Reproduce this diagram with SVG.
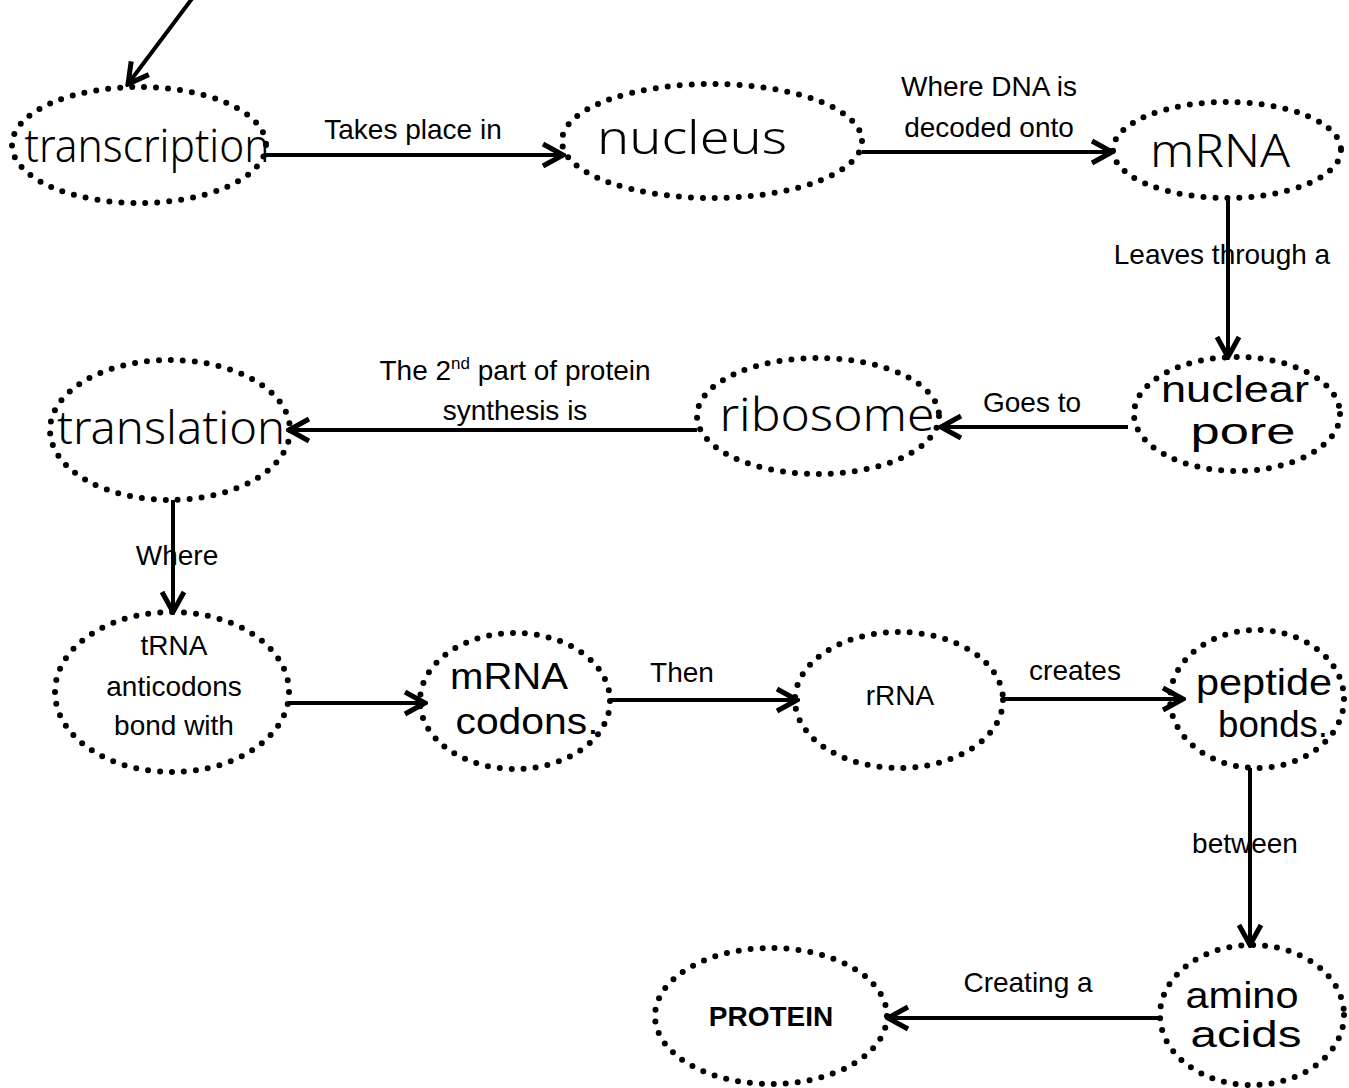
<svg xmlns="http://www.w3.org/2000/svg" width="1349" height="1088" viewBox="0 0 1349 1088">
<defs>
<style>
.node ellipse{fill:none;stroke:#000;stroke-width:6;stroke-linecap:round;stroke-dasharray:0 12}
.hw{font-family:"Noto Sans","DejaVu Sans",sans-serif;font-size:46px;fill:#000;text-anchor:middle;font-weight:300}
.hs{font-family:"Liberation Sans",Arial,sans-serif;font-size:37px;fill:#000;text-anchor:middle}
.lb{font-family:"Liberation Sans",Arial,sans-serif;font-size:28px;fill:#000;text-anchor:middle}
.bold{font-weight:bold}
.conn line{stroke:#000;stroke-width:4;fill:none;marker-end:url(#arr)}
</style>
<marker id="arr" markerUnits="userSpaceOnUse" viewBox="0 0 26 28" refX="23" refY="14" markerWidth="26" markerHeight="28" orient="auto">
<path d="M3,3 L23,14 L3,25" fill="none" stroke="#000" stroke-width="5" stroke-linejoin="miter"/>
</marker>
</defs>
<rect width="1349" height="1088" fill="#fff"/>

<g id="labels">
<text class="lb" x="413" y="139">Takes place in</text>
<text class="lb" x="989" y="96">Where DNA is</text>
<text class="lb" x="989" y="137">decoded onto</text>
<text class="lb" x="1222" y="264">Leaves through a</text>
<text class="lb" x="1032" y="412">Goes to</text>
<text class="lb" x="515" y="380">The 2<tspan font-size="17" dy="-11">nd</tspan><tspan dy="11"> part of protein</tspan></text>
<text class="lb" x="515" y="420">synthesis is</text>
<text class="lb" x="177" y="565">Where</text>
<text class="lb" x="682" y="682">Then</text>
<text class="lb" x="1075" y="680">creates</text>
<text class="lb" x="1245" y="853">between</text>
<text class="lb" x="1028" y="992">Creating a</text>
</g>

<g id="connectors" class="conn">
<line x1="194" y1="-4" x2="128" y2="84"/>
<line x1="265" y1="155" x2="563" y2="155"/>
<line x1="862" y1="152" x2="1112" y2="152"/>
<line x1="1228" y1="198" x2="1228" y2="357"/>
<line x1="1128" y1="427" x2="941" y2="427"/>
<line x1="697" y1="430" x2="289" y2="430"/>
<line x1="173" y1="500" x2="173" y2="612"/>
<line x1="288" y1="703" x2="425" y2="703"/>
<line x1="610" y1="700" x2="797" y2="700"/>
<line x1="1003" y1="699" x2="1183" y2="699"/>
<line x1="1250" y1="768" x2="1250" y2="945"/>
<line x1="1160" y1="1018" x2="888" y2="1018"/>
</g>

<g id="n-transcription" class="node">
<ellipse cx="139" cy="145" rx="127" ry="58"/>
<text class="hw" x="147" y="162" textLength="245" lengthAdjust="spacingAndGlyphs">transcription</text>
</g>
<g id="n-nucleus" class="node">
<ellipse cx="712" cy="141" rx="150" ry="57"/>
<text class="hw" x="692" y="154" textLength="190" lengthAdjust="spacingAndGlyphs">nucleus</text>
</g>
<g id="n-mrna" class="node">
<ellipse cx="1227" cy="150" rx="114" ry="48"/>
<text class="hw" x="1220" y="167" textLength="140" lengthAdjust="spacingAndGlyphs">mRNA</text>
</g>
<g id="n-nuclearpore" class="node">
<ellipse cx="1237" cy="414" rx="103" ry="57"/>
<text class="hs" x="1235" y="402" textLength="148" lengthAdjust="spacingAndGlyphs">nuclear</text>
<text class="hs" x="1243" y="444" textLength="105" lengthAdjust="spacingAndGlyphs">pore</text>
</g>
<g id="n-ribosome" class="node">
<ellipse cx="818" cy="416" rx="121" ry="58"/>
<text class="hw" x="827" y="431" textLength="215" lengthAdjust="spacingAndGlyphs">ribosome</text>
</g>
<g id="n-translation" class="node">
<ellipse cx="170" cy="430" rx="120" ry="70"/>
<text class="hw" x="171" y="444" textLength="228" lengthAdjust="spacingAndGlyphs">translation</text>
</g>
<g id="n-trna" class="node">
<ellipse cx="172" cy="692" rx="117" ry="80"/>
<text class="lb" x="174" y="655">tRNA</text>
<text class="lb" x="174" y="696">anticodons</text>
<text class="lb" x="174" y="735">bond with</text>
</g>
<g id="n-mrnacodons" class="node">
<ellipse cx="515" cy="701" rx="95" ry="68"/>
<text class="hs" x="509" y="689" textLength="118" lengthAdjust="spacingAndGlyphs">mRNA</text>
<text class="hs" x="527" y="734" textLength="143" lengthAdjust="spacingAndGlyphs">codons.</text>
</g>
<g id="n-rrna" class="node">
<ellipse cx="899" cy="700" rx="104" ry="68"/>
<text class="lb" x="900" y="705">rRNA</text>
</g>
<g id="n-peptidebonds" class="node">
<ellipse cx="1257" cy="699" rx="87" ry="69"/>
<text class="hs" x="1264" y="695" textLength="136" lengthAdjust="spacingAndGlyphs">peptide</text>
<text class="hs" x="1273" y="737" textLength="110" lengthAdjust="spacingAndGlyphs">bonds.</text>
</g>
<g id="n-aminoacids" class="node">
<ellipse cx="1252" cy="1015" rx="92" ry="70"/>
<text class="hs" x="1242" y="1008" font-size="34" textLength="113" lengthAdjust="spacingAndGlyphs">amino</text>
<text class="hs" x="1246" y="1047" font-size="34" textLength="111" lengthAdjust="spacingAndGlyphs">acids</text>
</g>
<g id="n-protein" class="node">
<ellipse cx="771" cy="1016" rx="116" ry="68"/>
<text class="lb bold" x="771" y="1026">PROTEIN</text>
</g>
</svg>
